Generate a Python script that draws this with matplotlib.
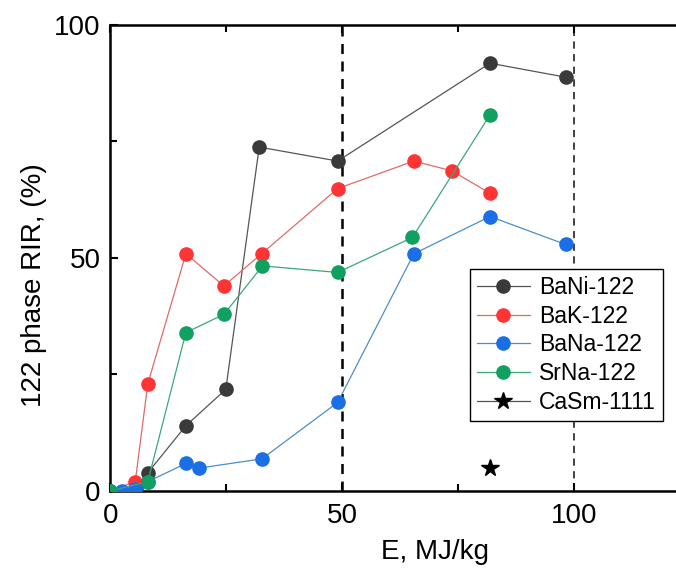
import matplotlib
matplotlib.use('Agg')
import matplotlib.pyplot as plt
from matplotlib.ticker import MultipleLocator

plt.rcParams['font.family'] = ['Liberation Sans', 'DejaVu Sans']

# BaNi-122
bani_x = [0, 5.5, 8.1, 16.3, 24.9, 32.1, 49.0, 81.8, 98.1]
bani_y = [0, 0.5, 3.9, 14.0, 21.8, 73.8, 70.8, 91.8, 88.8]
# BaK-122
bak_x = [0, 5.4, 8.1, 16.3, 24.5, 32.6, 49.0, 65.4, 73.6, 81.8]
bak_y = [0, 2.0, 23.0, 50.9, 44.0, 50.9, 64.9, 70.8, 68.7, 63.9]
# BaNa-122
bana_x = [0, 2.6, 5.4, 8.1, 16.3, 19.1, 32.7, 49.0, 65.4, 81.8, 98.1]
bana_y = [0, 0, 0.5, 2.0, 5.9, 4.9, 6.9, 19.0, 50.9, 58.9, 52.9]
# SrNa-122
srna_x = [0, 8.1, 16.3, 24.5, 32.8, 49.0, 65.1, 81.8]
srna_y = [0, 2.0, 34.0, 37.9, 48.3, 46.9, 54.4, 80.7]
# CaSm-1111
casm_x = [81.8]
casm_y = [4.9]

fig = plt.figure(figsize=(6.76, 5.68), dpi=100)
ax = fig.add_axes([0.163, 0.1356, 0.9615, 0.8204])

ax.axvline(50, color='black', ls=(0, (4, 3)), lw=1.8, zorder=1)
ax.axvline(100, color='#333333', ls=(0, (4, 3)), lw=1.3, zorder=1)

ms = 9.5
ax.plot(bani_x, bani_y, '-o', color='#555555', lw=0.9, ms=ms,
        mfc='#3a3a3a', mec='#3a3a3a', label='BaNi-122', zorder=3)
ax.plot(bak_x, bak_y, '-o', color='#e06a6a', lw=0.9, ms=ms,
        mfc='#ff3535', mec='#ff3535', label='BaK-122', zorder=3)
ax.plot(bana_x, bana_y, '-o', color='#4a8fc8', lw=0.9, ms=ms,
        mfc='#1a6ee6', mec='#1a6ee6', label='BaNa-122', zorder=3)
ax.plot(srna_x, srna_y, '-o', color='#3aa878', lw=0.9, ms=ms,
        mfc='#10a060', mec='#10a060', label='SrNa-122', zorder=3)
ax.plot(casm_x, casm_y, '-*', color='#555555', lw=0.9, ms=13,
        mfc='black', mec='black', label='CaSm-1111', zorder=3)

ax.set_xlim(0, 140)
ax.set_ylim(0, 100)
ax.xaxis.set_major_locator(MultipleLocator(50))
ax.xaxis.set_minor_locator(MultipleLocator(25))
ax.yaxis.set_major_locator(MultipleLocator(50))
ax.yaxis.set_minor_locator(MultipleLocator(25))
ax.tick_params(which='both', direction='in', top=True, right=False,
               width=1.5, labelsize=20)
ax.tick_params(which='major', length=6)
ax.tick_params(axis='x', which='major', pad=9)
ax.tick_params(axis='y', which='major', pad=7)
ax.tick_params(which='minor', length=5)
for s in ax.spines.values():
    s.set_linewidth(1.8)

ax.set_xlabel('E, MJ/kg', fontsize=20, labelpad=7)
ax.set_ylabel('122 phase RIR, (%)', fontsize=20)
ax.yaxis.set_label_coords(-0.097, 0.442)

leg = ax.legend(loc='upper left', bbox_to_anchor=(470 / 676, 1 - 269 / 568),
                bbox_transform=fig.transFigure, fontsize=16.5, frameon=True,
                fancybox=False, edgecolor='black', framealpha=1,
                handlelength=2.3, labelspacing=0.25, borderpad=0.3,
                handletextpad=0.4, borderaxespad=0)
leg.get_frame().set_linewidth(1.0)

fig.savefig('out.png', dpi=100)
